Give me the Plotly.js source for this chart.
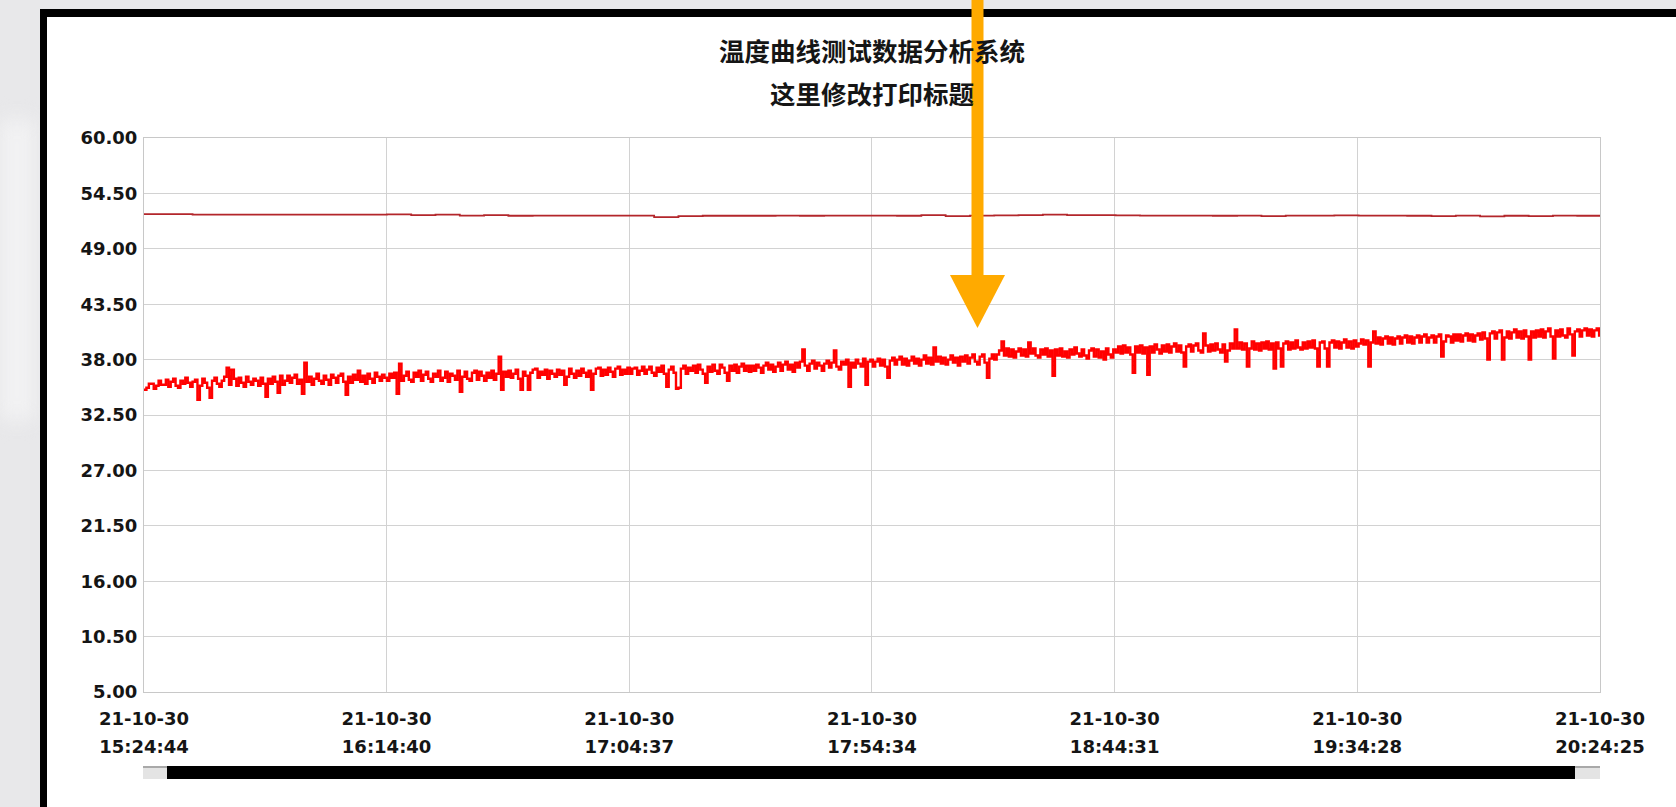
<!DOCTYPE html>
<html><head><meta charset="utf-8">
<script src="https://cdn.plot.ly/plotly-3.0.1.min.js"></script>
<style>
html,body{margin:0;padding:0;width:1676px;height:807px;overflow:hidden;background:#e8e8ea;}
#glow{position:absolute;left:0;top:120px;width:34px;height:300px;background:#f2f2f3;filter:blur(10px);}
#frame{position:absolute;left:40px;top:9px;width:1636px;height:798px;background:#fff;border-top:8px solid #000;border-left:7px solid #000;box-sizing:border-box;}
#chart{position:absolute;left:0;top:0;width:1676px;height:807px;}
</style></head><body>
<div id="glow"></div><div id="frame"></div><div id="chart"></div>
<script>
// ---------------- data ----------------
const chartTitle = '温度曲线测试数据分析系统';
const chartSubtitle = '这里修改打印标题';
const dayStr = '2021-10-30';
const startClock = '15:24:44';
const endClock = '20:24:25';
const tickDateLabel = '21-10-30';
const tickTimes = ['15:24:44','16:14:40','17:04:37','17:54:34','18:44:31','19:34:28','20:24:25'];
const yTickStart = 5.0;
const yTickStep = 5.5;
const yMin = 5.0, yMax = 60.0;

// bright red channel, one reading every 30 s
const channelAStepSec = 30;
const channelA = [
35.0,35.2,35.6,35.6,35.1,35.4,35.9,35.5,35.5,36.0,
35.3,35.8,36.1,35.4,35.2,35.9,35.6,36.2,35.7,35.3,
35.8,36.0,34.0,35.4,36.1,35.7,35.2,34.2,35.9,36.2,
35.6,35.3,35.9,36.3,37.2,35.5,37.0,36.1,35.4,36.2,
35.7,35.3,36.3,35.8,35.5,36.1,35.9,35.4,36.2,35.6,
34.3,36.1,35.6,36.3,35.8,34.7,36.4,35.5,35.9,36.4,
35.7,36.2,36.5,35.6,36.0,34.6,37.7,35.8,36.3,35.5,
36.1,36.6,35.9,35.6,36.4,36.0,35.5,36.5,36.2,35.7,
36.4,36.6,35.8,34.5,36.3,35.7,36.5,36.0,36.9,35.8,
36.4,35.6,36.6,36.1,35.7,36.7,36.3,35.9,36.5,36.2,
35.9,36.6,36.2,36.7,34.6,37.6,35.9,36.4,36.8,36.0,
35.8,36.7,36.3,36.9,35.9,36.5,36.8,36.1,35.8,36.6,
36.3,36.9,35.9,36.2,36.8,35.8,36.6,36.4,36.0,36.9,
34.8,36.3,36.8,36.1,35.9,36.7,36.9,36.0,36.8,36.4,
35.9,36.7,36.2,36.9,36.0,36.6,38.3,35.0,36.8,36.3,
36.9,36.2,36.6,37.0,36.1,35.0,36.8,36.4,35.0,36.7,
37.0,37.1,36.2,36.8,36.5,37.0,36.1,36.9,36.6,36.3,
37.0,36.5,36.9,35.5,36.3,37.1,36.6,36.2,36.9,36.4,
37.1,36.7,36.3,36.9,35.0,36.6,37.1,37.2,36.4,37.0,
36.5,37.2,36.8,36.3,37.1,37.3,36.5,37.0,36.6,37.2,
36.6,37.1,37.2,36.5,36.9,37.3,36.6,37.0,37.3,36.7,
36.4,37.2,36.8,37.4,36.6,35.3,37.0,37.3,36.7,35.1,
35.2,37.1,37.4,36.6,37.2,36.9,37.4,36.7,37.5,37.0,
36.6,35.7,37.3,36.8,37.5,36.9,36.6,37.5,37.2,36.7,
35.9,37.4,36.9,37.5,36.7,37.3,37.6,36.9,37.4,36.8,
37.4,36.9,37.5,37.2,36.7,37.4,37.7,37.0,37.5,36.8,
37.3,37.7,36.9,37.5,37.8,37.0,37.5,36.8,37.7,37.2,
37.8,39.0,37.4,36.9,37.6,37.9,37.1,37.7,37.4,36.9,
37.6,37.9,37.2,37.7,38.9,37.3,37.0,37.8,37.5,38.0,
35.3,37.7,37.2,38.0,37.6,37.3,38.1,35.5,37.8,38.0,
37.3,37.8,38.1,37.4,38.0,37.3,36.2,37.9,38.2,37.5,
38.0,38.3,37.5,38.1,37.4,37.9,38.3,37.6,38.1,37.4,
38.0,38.4,37.6,38.2,37.5,39.2,37.8,38.3,37.6,38.2,
37.5,38.0,38.4,37.7,38.2,37.4,38.3,37.8,38.4,37.6,
38.2,38.5,37.8,37.5,38.3,38.5,37.7,36.2,38.1,38.5,
38.0,38.5,38.9,39.8,38.4,39.1,38.3,39.0,38.2,38.8,
39.1,38.4,39.0,38.3,39.7,38.6,39.1,38.4,38.2,39.0,
38.5,39.1,38.3,38.9,36.4,39.0,38.4,39.1,38.3,38.8,
38.2,39.0,38.5,39.2,38.6,38.3,39.0,38.4,38.1,38.9,
39.1,38.3,39.0,38.2,38.8,38.0,39.1,38.5,38.2,39.0,
38.7,39.3,38.6,39.4,38.7,39.2,38.5,36.7,39.3,38.7,
39.4,38.6,39.2,36.5,39.3,38.7,39.5,39.0,38.6,39.4,
38.8,39.5,38.7,39.3,39.6,38.8,39.4,38.7,37.3,39.3,
39.5,38.8,39.4,39.6,38.9,38.7,40.6,39.4,38.8,39.5,
38.9,39.6,39.0,38.7,39.5,37.8,38.9,39.6,39.1,41.0,
39.1,39.7,39.0,39.6,37.3,39.1,39.8,39.0,39.6,38.9,
39.7,39.1,39.8,39.0,39.6,37.1,39.7,39.1,37.3,39.6,
39.8,39.0,39.7,39.1,39.9,39.2,39.0,39.7,39.1,39.8,
39.2,39.9,39.1,37.3,39.7,39.8,39.1,37.3,39.7,39.9,
39.2,39.8,39.1,39.7,40.0,39.2,39.8,39.1,39.9,39.3,
39.6,40.0,39.5,39.9,37.3,39.7,40.8,39.6,40.2,39.5,
40.1,40.3,39.6,40.2,39.5,40.1,40.3,39.6,40.2,40.4,
39.7,40.3,39.6,40.2,40.4,39.7,40.3,40.5,39.7,40.2,
40.4,39.7,40.3,40.5,38.3,39.8,40.4,40.3,39.7,40.5,
39.9,40.5,39.8,40.4,40.6,39.9,40.5,39.8,40.4,40.6,
40.0,40.7,40.1,38.0,40.6,40.8,40.1,40.7,40.9,38.0,
40.2,40.8,40.1,40.7,41.0,40.2,40.8,40.1,40.9,40.3,
38.0,40.8,40.2,40.9,40.3,41.0,40.2,40.8,41.1,40.3,
38.1,40.9,40.3,41.0,40.4,40.2,41.1,40.5,38.4,40.8,
41.0,40.3,40.9,41.1,40.4,41.0,40.3,40.9,41.1,40.4,39.6
];

// dark red channel, one reading every 5 minutes
const channelBStepSec = 300;
const channelB = [
52.45,52.45,52.40,52.40,52.40,52.40,52.40,52.40,52.40,52.40,
52.42,52.35,52.40,52.30,52.35,52.28,52.30,52.30,52.30,52.30,
52.30,52.15,52.25,52.28,52.28,52.28,52.30,52.28,52.30,52.30,
52.30,52.28,52.35,52.25,52.30,52.32,52.35,52.40,52.35,52.35,
52.32,52.30,52.30,52.30,52.28,52.30,52.25,52.30,52.30,52.32,
52.30,52.30,52.28,52.25,52.30,52.22,52.28,52.25,52.30,52.28,52.25
];

// ---------------- helpers ----------------
function clockToSec(c){const p=c.split(':').map(Number);return p[0]*3600+p[1]*60+p[2];}
function pad(n){return (n<10?'0':'')+n;}
function stamp(sec){const h=Math.floor(sec/3600),m=Math.floor((sec%3600)/60),s=Math.floor(sec%60);return dayStr+' '+pad(h)+':'+pad(m)+':'+pad(s);}
const t0 = clockToSec(startClock);
const timesA = channelA.map((v,i)=>stamp(t0+i*channelAStepSec));
const timesB = channelB.map((v,i)=>stamp(t0+i*channelBStepSec));

// layout geometry (pixels)
const W=1676,H=807,ML=144,MR=76,MT=138,MB=115;
const PW=W-ML-MR, PH=H-MT-MB;
const px = x => (x-ML)/PW;
const py = y => (H-MB-y)/PH;

const tickFont = {family:'DejaVu Sans', size:18, color:'#151515', weight:'bold'};
const titleFont = {family:'Noto Sans CJK SC', size:25.5, color:'#151515', weight:'bold'};

const traces = [
  {x:timesB, y:channelB, type:'scatter', mode:'lines', line:{color:'#b3262b', width:1.8, shape:'hv'}, hoverinfo:'skip'},
  {x:timesA, y:channelA, type:'scatter', mode:'lines', line:{color:'#ff0000', width:2.4, shape:'hv'}, hoverinfo:'skip'}
];

const layout = {
  width:W, height:H,
  paper_bgcolor:'rgba(0,0,0,0)', plot_bgcolor:'rgba(0,0,0,0)',
  margin:{l:ML, r:MR, t:MT, b:MB, pad:0},
  showlegend:false,
  title:{text:chartTitle, font:titleFont, xref:'paper', x:0.5, xanchor:'center', yref:'container', y:1-51.7/H, yanchor:'middle'},
  annotations:[{text:chartSubtitle, font:titleFont, xref:'paper', yref:'paper', x:0.5, y:py(93), xanchor:'center', yanchor:'middle', showarrow:false}],
  xaxis:{
    type:'date', range:[dayStr+' '+startClock, dayStr+' '+endClock],
    tickmode:'array',
    tickvals: tickTimes.map(t=>dayStr+' '+t),
    ticktext: tickTimes.map(t=>'<span style="font-size:18px">'+tickDateLabel+'</span><br><span style="font-size:18px">'+t+'</span>'),
    tickfont:Object.assign({}, tickFont, {size:21.5}), tickangle:0, ticklabelstandoff:6,
    showgrid:true, gridcolor:'#d2d2d2', gridwidth:1,
    showline:true, linecolor:'#c8c8c8', linewidth:1, mirror:true,
    zeroline:false, ticks:'', fixedrange:true
  },
  yaxis:{
    range:[yMin,yMax], tickmode:'linear', tick0:yTickStart, dtick:yTickStep, tickformat:'.2f',
    tickfont:tickFont, ticklabelstandoff:2,
    showgrid:true, gridcolor:'#d2d2d2', gridwidth:1,
    showline:true, linecolor:'#c8c8c8', linewidth:1, mirror:true,
    zeroline:false, ticks:'', fixedrange:true
  },
  shapes:[
    // scrollbar
    {type:'rect', xref:'paper', yref:'paper', x0:px(143), x1:px(167), y0:py(779), y1:py(766), fillcolor:'#e4e4e4', line:{width:0}},
    {type:'rect', xref:'paper', yref:'paper', x0:px(143), x1:px(167), y0:py(768), y1:py(766), fillcolor:'#a9a9a9', line:{width:0}},
    {type:'rect', xref:'paper', yref:'paper', x0:px(167), x1:px(1575), y0:py(779), y1:py(766), fillcolor:'#000000', line:{width:0}},
    {type:'rect', xref:'paper', yref:'paper', x0:px(1575), x1:px(1600), y0:py(779), y1:py(766), fillcolor:'#e4e4e4', line:{width:0}},
    {type:'rect', xref:'paper', yref:'paper', x0:px(1575), x1:px(1600), y0:py(768), y1:py(766), fillcolor:'#a9a9a9', line:{width:0}},
    // orange pointer arrow
    {type:'rect', xref:'paper', yref:'paper', x0:px(971.5), x1:px(983.5), y0:py(276), y1:py(0), fillcolor:'#ffaa00', line:{width:0}},
    {type:'path', xref:'paper', yref:'paper', path:'M '+px(950)+','+py(275)+' L '+px(1005)+','+py(275)+' L '+px(977.5)+','+py(328)+' Z', fillcolor:'#ffaa00', line:{width:0}}
  ]
};

Plotly.newPlot('chart', traces, layout, {displayModeBar:false, staticPlot:true});
</script>
</body></html>
